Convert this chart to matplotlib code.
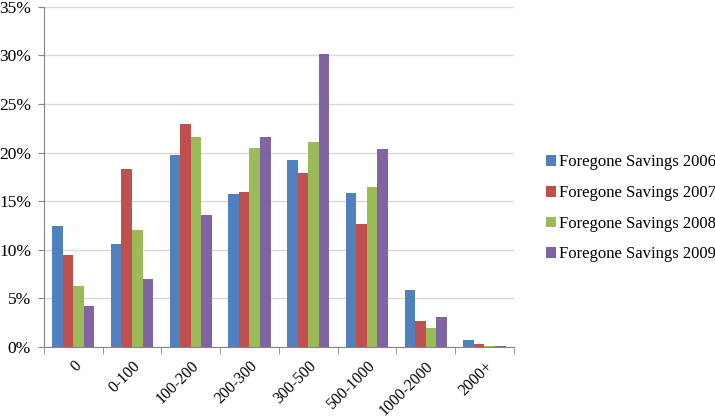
import matplotlib
matplotlib.use("Agg")
import matplotlib.pyplot as plt
import numpy as np
from matplotlib.ticker import FuncFormatter, FixedLocator

categories = ["0", "0-100", "100-200", "200-300", "300-500", "500-1000", "1000-2000", "2000+"]
s2006 = [12.4, 10.6, 19.7, 15.7, 19.2, 15.8, 5.9, 0.75]
s2007 = [9.5, 18.3, 22.9, 15.9, 17.9, 12.6, 2.7, 0.3]
s2008 = [6.3, 12.0, 21.6, 20.5, 21.1, 16.5, 1.9, 0.05]
s2009 = [4.2, 7.0, 13.6, 21.6, 30.1, 20.4, 3.1, 0.1]
labels = ["Foregone Savings 2006", "Foregone Savings 2007", "Foregone Savings 2008", "Foregone Savings 2009"]
colors = ["#4F81BD", "#C0504D", "#9BBB59", "#8064A2"]

plt.rcParams['font.family'] = ['Liberation Serif', 'DejaVu Serif']

fig = plt.figure(figsize=(7.15, 4.17), dpi=100)
ax = fig.add_axes([0.0615, 0.168, 0.657, 0.816])

x = np.arange(len(categories))
w = 0.18
series = [s2006, s2007, s2008, s2009]
for i, (vals, lab, c) in enumerate(zip(series, labels, colors)):
    ax.bar(x + (i - 1.5) * w, vals, width=w, color=c, label=lab, zorder=3)

ax.set_xlim(-0.5, len(categories) - 0.5)
ax.set_ylim(0, 35)
ax.set_yticks(np.arange(0, 36, 5))
ax.yaxis.set_major_formatter(FuncFormatter(lambda v, p: f"{int(v)}%"))
ax.yaxis.grid(True, color="#D9D9D9", linewidth=1, zorder=0)
ax.set_axisbelow(True)

ax.set_xticks(x)
ax.set_xticklabels(categories, rotation=45, ha="right", va="top", rotation_mode="anchor", fontsize=11.5)
ax.tick_params(axis="x", which="major", length=0, pad=8)
ax.xaxis.set_minor_locator(FixedLocator(np.arange(-0.5, len(categories), 1)))
ax.tick_params(axis="x", which="minor", length=5, color="#868686")
ax.tick_params(axis="y", length=4, color="#868686", labelsize=12.5, pad=5.3)

for s in ["top", "right"]:
    ax.spines[s].set_visible(False)
for s in ["left", "bottom"]:
    ax.spines[s].set_color("#868686")

leg = fig.legend(loc="center left", bbox_to_anchor=(0.7636, 0.5), frameon=False, fontsize=12,
                 handlelength=0.6, handleheight=0.6, handletextpad=0.2, labelspacing=0.88,
                 borderpad=0, borderaxespad=0)

fig.savefig("out.png", dpi=100)
